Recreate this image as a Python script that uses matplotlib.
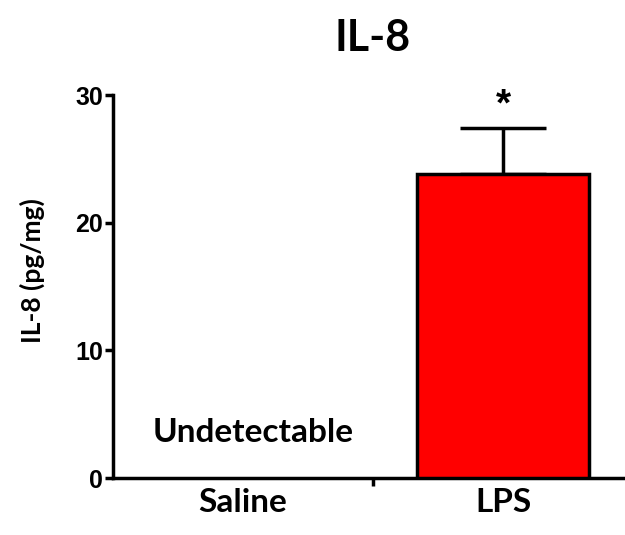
import matplotlib
matplotlib.use("Agg")
import matplotlib.pyplot as plt

groups = ["Saline", "LPS"]
means = [0.0, 23.8]
sem = [0.0, 3.6]
yticks = [0, 10, 20, 30]

label_font = ["Lato", "DejaVu Sans"]
num_font = ["Liberation Sans", "DejaVu Sans"]

fig = plt.figure(figsize=(6.25, 5.35), dpi=100)
ax = fig.add_axes([0.1808, 0.1065, 0.832, 0.7159])

x = [0, 1]
ax.bar(x[1], means[1], width=0.665, color="#ff0000", edgecolor="black",
       linewidth=2.5, zorder=3)
ax.errorbar(x[1], means[1], yerr=[[0], [sem[1]]], fmt="none", ecolor="black",
            elinewidth=2.5, capsize=31, capthick=2.5, zorder=2)

# significance mark above the LPS bar
ax.text(1, 29.2, "*", ha="center", va="center", fontsize=28,
        fontweight="bold", family=num_font)
ax.text(0.04, 3.6, "Undetectable", ha="center", va="center", fontsize=24,
        fontweight="bold", family=label_font)

ax.set_xlim(-0.5, 1.5)
ax.set_ylim(0, 30)
ax.set_yticks(yticks)
ax.set_yticklabels([str(t) for t in yticks], fontsize=18, fontweight="bold",
                   family=num_font)
ax.set_xticks(x)
ax.set_xticklabels(groups, fontsize=24, fontweight="bold", family=label_font)
ax.set_xticks([0.5], minor=True)
ax.tick_params(axis="x", which="major", length=0, pad=7)
ax.tick_params(axis="x", which="minor", length=6, width=2.5)
ax.tick_params(axis="y", length=6, width=2.5, pad=1)

for side in ["top", "right"]:
    ax.spines[side].set_visible(False)
for side in ["left", "bottom"]:
    ax.spines[side].set_linewidth(2.5)

fig.text(373 / 625, 1 - 38 / 535, "IL-8", ha="center", va="center",
         fontsize=31, fontweight="bold", family=label_font)
fig.text(32 / 625, 0.4935, "IL-8 (pg/mg)", ha="center", va="center",
         rotation=90, fontsize=19, fontweight="bold", family=label_font)

fig.savefig("out.png", dpi=100)
